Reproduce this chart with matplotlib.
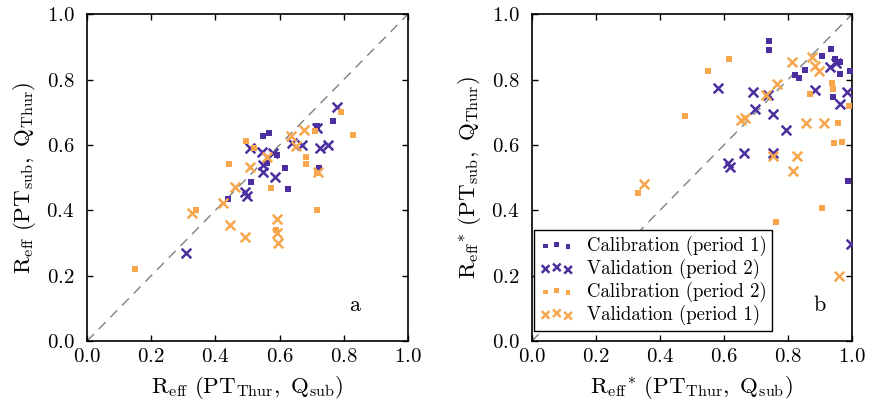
import matplotlib
matplotlib.use("Agg")
import matplotlib.pyplot as plt

plt.rcParams['font.family'] = 'serif'
plt.rcParams['font.serif'] = ['cmr10', 'DejaVu Serif']
plt.rcParams['mathtext.fontset'] = 'cm'
plt.rcParams['axes.formatter.use_mathtext'] = True

purple = '#4b2f9f'
orange = '#f7a64c'

# panel a
a_cal1_x = [0.548, 0.567, 0.592, 0.561, 0.511, 0.439, 0.617, 0.626, 0.717, 0.766, 0.723]
a_cal1_y = [0.627, 0.636, 0.569, 0.544, 0.486, 0.434, 0.529, 0.465, 0.657, 0.673, 0.529]
a_val2_x = [0.779, 0.508, 0.545, 0.579, 0.548, 0.548, 0.586, 0.492, 0.498, 0.670, 0.726, 0.751, 0.717, 0.639, 0.308]
a_val2_y = [0.716, 0.590, 0.578, 0.575, 0.538, 0.517, 0.502, 0.456, 0.443, 0.599, 0.590, 0.599, 0.651, 0.606, 0.269]
a_cal2_x = [0.791, 0.829, 0.495, 0.442, 0.520, 0.682, 0.682, 0.717, 0.573, 0.717, 0.589, 0.710, 0.150, 0.340]
a_cal2_y = [0.700, 0.630, 0.612, 0.541, 0.590, 0.563, 0.541, 0.514, 0.468, 0.401, 0.339, 0.642, 0.220, 0.401]
a_val1_x = [0.508, 0.461, 0.424, 0.445, 0.492, 0.592, 0.592, 0.595, 0.676, 0.636, 0.651, 0.561, 0.720, 0.327]
a_val1_y = [0.532, 0.471, 0.422, 0.355, 0.318, 0.373, 0.330, 0.300, 0.645, 0.627, 0.596, 0.563, 0.517, 0.391]

# panel b
b_cal1_x = [0.741, 0.741, 0.934, 0.906, 0.947, 0.963, 0.822, 0.834, 0.853, 0.963, 0.995, 0.941, 0.988]
b_cal1_y = [0.917, 0.890, 0.893, 0.872, 0.862, 0.853, 0.813, 0.804, 0.829, 0.817, 0.826, 0.746, 0.489]
b_val2_x = [0.581, 0.691, 0.738, 0.697, 0.753, 0.794, 0.663, 0.753, 0.613, 0.619, 0.884, 0.984, 0.963, 0.931, 0.950, 0.997]
b_val2_y = [0.774, 0.761, 0.752, 0.709, 0.694, 0.645, 0.575, 0.575, 0.544, 0.532, 0.768, 0.761, 0.725, 0.838, 0.850, 0.297]
b_cal2_x = [0.616, 0.550, 0.478, 0.331, 0.763, 0.906, 0.938, 0.941, 0.869, 0.956, 0.944, 0.969, 0.991]
b_cal2_y = [0.862, 0.826, 0.688, 0.453, 0.364, 0.407, 0.789, 0.771, 0.755, 0.667, 0.606, 0.609, 0.719]
b_val1_x = [0.813, 0.875, 0.884, 0.897, 0.766, 0.731, 0.653, 0.666, 0.856, 0.913, 0.753, 0.828, 0.816, 0.350, 0.959]
b_val1_y = [0.853, 0.869, 0.841, 0.826, 0.786, 0.752, 0.676, 0.682, 0.667, 0.667, 0.566, 0.566, 0.520, 0.480, 0.199]

labels = ['Calibration (period 1)', 'Validation (period 2)',
          'Calibration (period 2)', 'Validation (period 1)']

fig = plt.figure(figsize=(8.72, 4.18), dpi=100)
ax1 = fig.add_axes([0.0998, 0.184, 0.368, 0.782])
ax2 = fig.add_axes([0.610, 0.184, 0.367, 0.782])

sq = 18
xx = 48

def draw(ax, c1x, c1y, v2x, v2y, c2x, c2y, v1x, v1y):
    ax.plot([0, 1], [0, 1], color='gray', ls=(0, (7, 5)), lw=1.0, zorder=1)
    ax.scatter(c1x, c1y, marker='s', s=sq, color=purple, lw=0, label=labels[0], zorder=3)
    ax.scatter(v2x, v2y, marker='x', s=xx, color=purple, lw=1.8, label=labels[1], zorder=3)
    ax.scatter(c2x, c2y, marker='s', s=sq, color=orange, lw=0, label=labels[2], zorder=3)
    ax.scatter(v1x, v1y, marker='x', s=xx, color=orange, lw=1.8, label=labels[3], zorder=3)
    ax.set_xlim(0, 1)
    ax.set_ylim(0, 1)
    ax.set_xticks([0, 0.2, 0.4, 0.6, 0.8, 1.0])
    ax.set_yticks([0, 0.2, 0.4, 0.6, 0.8, 1.0])
    ax.tick_params(direction='in', top=True, right=True, length=4, labelsize=15, width=1)
    ax.tick_params(axis='y', pad=9)
    ax.tick_params(axis='x', pad=5)
    for s in ax.spines.values():
        s.set_linewidth(1.2)

draw(ax1, a_cal1_x, a_cal1_y, a_val2_x, a_val2_y, a_cal2_x, a_cal2_y, a_val1_x, a_val1_y)
draw(ax2, b_cal1_x, b_cal1_y, b_val2_x, b_val2_y, b_cal2_x, b_cal2_y, b_val1_x, b_val1_y)

ax1.set_xlabel(r'$\mathrm{R_{eff}\ (PT_{Thur},\ Q_{sub})}$', fontsize=16.5, labelpad=6)
ax1.set_ylabel(r'$\mathrm{R_{eff}\ (PT_{sub},\ Q_{Thur})}$', fontsize=16.5, labelpad=6)
ax2.set_xlabel(r'$\mathrm{R_{eff}}^{*}\ \mathrm{(PT_{Thur},\ Q_{sub})}$', fontsize=16.5, labelpad=6)
ax2.set_ylabel(r'$\mathrm{R_{eff}}^{*}\ \mathrm{(PT_{sub},\ Q_{Thur})}$', fontsize=16.5, labelpad=6)

ax1.text(0.835, 0.11, 'a', fontsize=16, ha='center', va='center')
ax2.text(0.90, 0.11, 'b', fontsize=16, ha='center', va='center')

leg = ax2.legend(loc='lower left', bbox_to_anchor=(-0.01, 0.015), scatterpoints=3,
                 fontsize=13.5, fancybox=False, framealpha=1, edgecolor='black',
                 handletextpad=0.7, handlelength=1.8, borderaxespad=0.3,
                 labelspacing=0.15, borderpad=0.3, markerscale=0.8)
leg.get_frame().set_linewidth(1.0)

fig.savefig('out.png', dpi=100)
